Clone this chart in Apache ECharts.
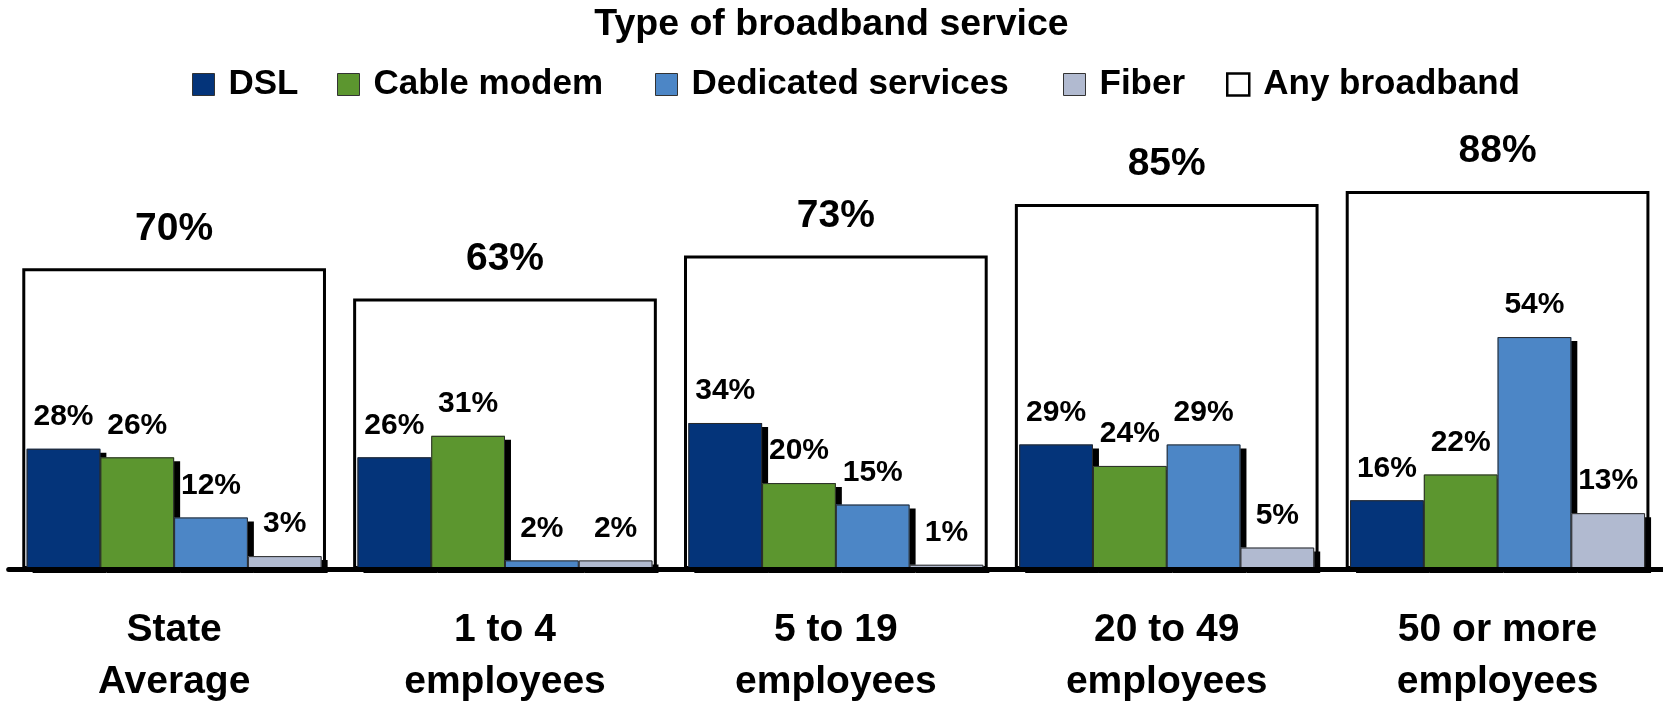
<!DOCTYPE html>
<html>
<head>
<meta charset="utf-8">
<script src="https://cdn.jsdelivr.net/npm/echarts@6/dist/echarts.min.js"></script>
<style>
  html, body { margin: 0; padding: 0; background: #fff; }
  #chart { width: 1663px; height: 708px; }
</style>
</head>
<body>
<div id="chart"></div>
<script>
// Business broadband adoption by firm size
const titleText = 'Type of broadband service';
const categories = ['State\nAverage', '1 to 4\nemployees', '5 to 19\nemployees', '20 to 49\nemployees', '50 or more\nemployees'];
const seriesNames = ['DSL', 'Cable modem', 'Dedicated services', 'Fiber', 'Any broadband'];
const dsl = [28, 26, 34, 29, 16];
const cableModem = [26, 31, 20, 24, 22];
const dedicated = [12, 2, 15, 29, 54];
const fiber = [3, 2, 1, 5, 13];
const anyBroadband = [70, 63, 73, 85, 88];

const FONT = '"Liberation Sans", Arial, Helvetica, sans-serif';
const colors = ['#04347A', '#5C962F', '#4C86C6', '#B1BAD0'];
const typeData = [dsl, cableModem, dedicated, fiber];
const BAR_W = 73.75;

const chart = echarts.init(document.getElementById('chart'), null, { renderer: 'canvas' });

// Filled bars with a hard drop shadow (no stroke, so the shadow stays outside the bar)
function typeSeries(name, data, color) {
  return {
    name: name,
    type: 'bar',
    xAxisIndex: 0,
    data: data,
    barWidth: BAR_W,
    barGap: '0%',
    itemStyle: {
      color: color,
      borderWidth: 0,
      shadowColor: '#000',
      shadowBlur: 0,
      shadowOffsetX: 6,
      shadowOffsetY: 4
    },
    label: {
      show: true,
      position: 'top',
      distance: 17,
      formatter: '{c}%',
      color: '#000',
      fontFamily: FONT,
      fontWeight: 'bold',
      fontSize: 30
    }
  };
}

// Thin outline drawn over each filled bar
function outlineSeries(i, data) {
  return {
    name: 'outline-' + i,
    type: 'bar',
    xAxisIndex: 2,
    data: data,
    barWidth: BAR_W,
    barGap: '0%',
    silent: true,
    itemStyle: { color: 'rgba(0,0,0,0)', borderColor: '#2a2a2a', borderWidth: 1 },
    label: { show: false }
  };
}

const legendLefts = [192, 337, 655, 1063, 1226];
const legendTextStyle = { fontFamily: FONT, fontWeight: 'bold', fontSize: 35, color: '#000', padding: [0, 0, 0, 9] };
const legendItemStyle = { borderColor: '#333', borderWidth: 1, shadowColor: 'rgba(0,0,0,0)', shadowBlur: 0, shadowOffsetX: 0, shadowOffsetY: 0 };

const legends = seriesNames.map((n, i) => ({
  left: legendLefts[i],
  top: 67,
  padding: 0,
  icon: 'rect',
  itemWidth: 22,
  itemHeight: 22,
  selectedMode: false,
  textStyle: legendTextStyle,
  itemStyle: legendItemStyle,
  data: [i === 4
    ? { name: n, itemStyle: { color: '#fff', borderColor: '#000', borderWidth: 2.5 } }
    : { name: n }]
}));

chart.setOption({
  animation: false,
  backgroundColor: '#fff',
  title: {
    text: titleText,
    left: 'center',
    top: 6,
    padding: 0,
    textStyle: { fontFamily: FONT, fontWeight: 'bold', fontSize: 37.5, color: '#000' }
  },
  legend: legends,
  grid: { left: 8.7, top: 139.5, width: 1671.5, height: 436 },
  xAxis: [
    {
      type: 'category',
      data: categories,
      z: 5,
      axisLine: { show: true, lineStyle: { color: '#000', width: 5, cap: 'round' } },
      axisTick: { show: false },
      axisLabel: {
        margin: 35,
        color: '#000',
        fontFamily: FONT,
        fontWeight: 'bold',
        fontSize: 39,
        lineHeight: 52,
        interval: 0
      }
    },
    { type: 'category', data: categories, show: false },
    { type: 'category', data: categories, show: false }
  ],
  yAxis: { type: 'value', min: 0, max: 100, show: false },
  series: [
    {
      name: seriesNames[4],
      type: 'bar',
      xAxisIndex: 1,
      data: anyBroadband,
      barWidth: 303.7,
      itemStyle: { color: '#fff', borderColor: '#000', borderWidth: 3 },
      label: {
        show: true,
        position: 'top',
        distance: 20,
        formatter: '{c}%',
        color: '#000',
        fontFamily: FONT,
        fontWeight: 'bold',
        fontSize: 39
      }
    },
    ...typeData.map((d, i) => typeSeries(seriesNames[i], d, colors[i])),
    ...typeData.map((d, i) => outlineSeries(i, d))
  ]
});
</script>
</body>
</html>
